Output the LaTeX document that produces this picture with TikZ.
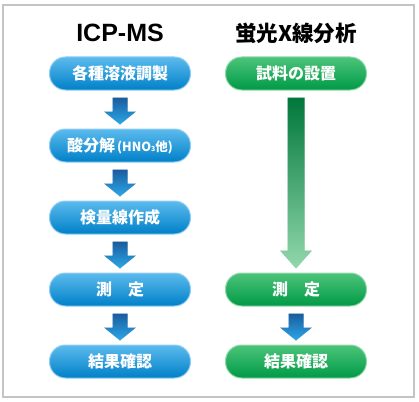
\documentclass[tikz,border=0pt]{standalone}
\usepackage{fontspec}
\setmainfont{Liberation Sans}
\newfontfamily\jpfont{Noto Sans CJK JP}
\usetikzlibrary{calc}

\definecolor{framegray}{HTML}{C4C4C4}
\definecolor{boxblue}{HTML}{0080C8}
\definecolor{boxbluetop}{HTML}{5CBBEE}
\definecolor{boxbluerim}{HTML}{8FCDF2}
\definecolor{boxgreen}{HTML}{009A46}
\definecolor{boxgreentop}{HTML}{4CC47A}
\definecolor{boxgreenrim}{HTML}{94D9AE}
\definecolor{arrowdark}{HTML}{1A5C9E}
\definecolor{arrowlight}{HTML}{2CA8E8}
\definecolor{longdark}{HTML}{00773A}
\definecolor{longlight}{HTML}{92D8AC}

\tikzset{
  jpbox/.style={rounded corners=16pt, minimum width=141pt, minimum height=33pt,
    inner sep=0pt, line width=1pt, text=white,
    font=\jpfont\bfseries\fontsize{16}{16}\selectfont},
  bluebox/.style={jpbox, top color=boxbluetop, middle color=boxblue,
    bottom color=boxblue, draw=boxbluerim},
  greenbox/.style={jpbox, top color=boxgreentop, middle color=boxgreen,
    bottom color=boxgreen, draw=boxgreenrim},
  titletext/.style={font=\bfseries\fontsize{25}{25}\selectfont},
  bluearrow/.style={top color=arrowdark, bottom color=arrowlight},
  greenarrow/.style={top color=longdark, bottom color=longlight},
  arrowshadow/.style={fill=black!15, xshift=2pt, yshift=-1.5pt}
}

% from, to, half shaft, half head, head length, style
\newcommand{\flowarrow}[6]{%
  \fill[arrowshadow] let \p1=(#1.south), \p2=(#2.north) in
    (\x1-#3,\y1-7pt) -- (\x1+#3,\y1-7pt) -- (\x1+#3,\y2+4pt+#5)
    -- (\x1+#4,\y2+4pt+#5) -- (\x1,\y2+4pt) -- (\x1-#4,\y2+4pt+#5)
    -- (\x1-#3,\y2+4pt+#5) -- cycle;
  \shade[#6] let \p1=(#1.south), \p2=(#2.north) in
    (\x1-#3,\y1-7pt) -- (\x1+#3,\y1-7pt) -- (\x1+#3,\y2+4pt+#5)
    -- (\x1+#4,\y2+4pt+#5) -- (\x1,\y2+4pt) -- (\x1-#4,\y2+4pt+#5)
    -- (\x1-#3,\y2+4pt+#5) -- cycle;
}

\begin{document}
\begin{tikzpicture}[x=1pt, y=-1pt]
\useasboundingbox (0,0) rectangle (419,401);

% --- Frame ---
\draw[framegray, line width=1.2pt] (3,5) rectangle (414,397);

% --- Titles ---
\node[titletext] (t1) at (120,33) {ICP-MS};
\node[titletext, font=\jpfont\bfseries\fontsize{21.5}{22}\selectfont] (t2) at (296,33) {蛍光X線分析};

% --- ICP-MS steps ---
\foreach \txt [count=\k] in {各種溶液調製,
                             {酸分解{\fontsize{12.5}{12}\selectfont\,(HNO{\fontsize{7}{7}\selectfont 3}他)}},
                             検量線作成,
                             測　定,
                             結果確認} {
    \node[bluebox] (a\k) at (120, 1.5+72*\k) {\txt};
}

\foreach \k in {1,...,4} {
    \pgfmathtruncatemacro{\nxt}{\k+1}
    \flowarrow{a\k}{a\nxt}{7.5pt}{16pt}{13pt}{bluearrow}
}

% --- XRF steps ---
\node[greenbox] (b1) at (296,73.5) {試料の設置};
\node[greenbox] (b2) at (296,289.5) {測　定};
\node[greenbox] (b3) at (296,361.5) {結果確認};

\flowarrow{b1}{b2}{8.5pt}{16pt}{18pt}{greenarrow}
\flowarrow{b2}{b3}{7.5pt}{16pt}{13pt}{bluearrow}

\end{tikzpicture}
\end{document}
